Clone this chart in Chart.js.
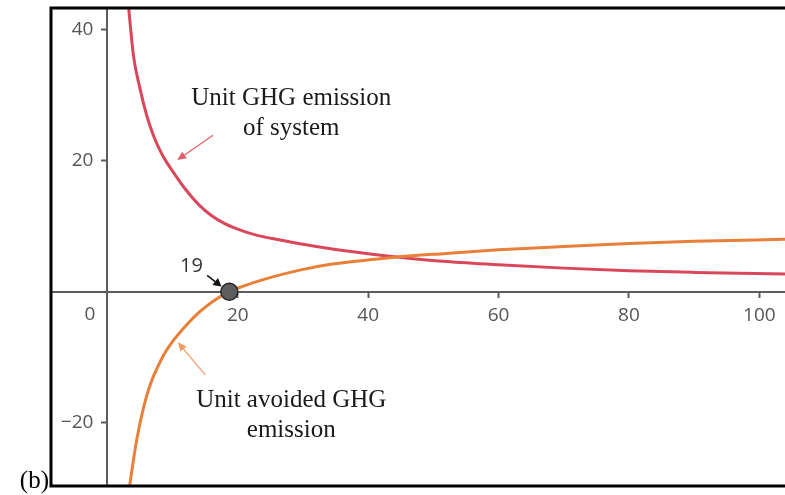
<!DOCTYPE html>
<html>
<head>
<meta charset="utf-8">
<script src="https://cdn.jsdelivr.net/npm/chart.js@4.4.1/dist/chart.umd.min.js"></script>
<style>
  html, body { margin: 0; padding: 0; background: #ffffff; }
  #wrap { width: 785px; height: 495px; position: relative; }
</style>
</head>
<body>
<div id="wrap"><canvas id="c" width="785" height="495"></canvas></div>
<script>
// ---- data ----
const systemX   = [3.1, 4, 5, 6, 7, 8, 9, 10, 12, 14, 16, 18, 20.3, 23, 26.5, 30, 34, 40, 44.4, 52, 60, 70, 80, 90, 104];
const systemY   = [45, 36, 31, 27, 24, 21.7, 19.9, 18.4, 15.6, 13.3, 11.6, 10.4, 9.45, 8.6, 7.9, 7.25, 6.6, 5.8, 5.3, 4.6, 4.1, 3.6, 3.2, 2.95, 2.7];
const avoidedX  = [3.2, 4.5, 6.2, 8.5, 10, 12.2, 14, 16, 18.7, 20.4, 24.4, 29.5, 34, 40, 44.4, 52, 60, 70, 80, 90, 104];
const avoidedY  = [-31, -22.6, -15.3, -9.9, -7.6, -5.0, -3.2, -1.6, 0, 0.7, 2.0, 3.3, 4.15, 4.85, 5.3, 5.85, 6.4, 6.9, 7.35, 7.7, 8.0];
const breakEvenX = [18.7];
const breakEvenY = [0];
const breakEvenLabel = "19";
const xTicks = [20, 40, 60, 80, 100];
const yTicks = [-20, 20, 40];
const originLabel = "0";
const systemLabel = ["Unit GHG emission", "of system"];
const avoidedLabel = ["Unit avoided GHG", "emission"];
const panelLabel = "(b)";

const toPts = (xs, ys) => xs.map((x, i) => ({ x: x, y: ys[i] }));
const fmt = v => (v < 0 ? '\u2212' + Math.abs(v) : String(v));

const RED = '#d9485a';
const ORANGE = '#e8803a';
const AXIS = '#5c5c5c';
const TICK = '#555555';
const TICK_FONT = '19px "Open Sans"';

function arrow(ctx, x1, y1, x2, y2, color, width, headLen, headW) {
  const ang = Math.atan2(y2 - y1, x2 - x1);
  const bx = x2 - headLen * Math.cos(ang);
  const by = y2 - headLen * Math.sin(ang);
  ctx.save();
  ctx.strokeStyle = color; ctx.fillStyle = color; ctx.lineWidth = width;
  ctx.beginPath(); ctx.moveTo(x1, y1); ctx.lineTo(bx, by); ctx.stroke();
  ctx.beginPath();
  ctx.moveTo(x2, y2);
  ctx.lineTo(bx + headW * Math.sin(ang), by - headW * Math.cos(ang));
  ctx.lineTo(bx - headW * Math.sin(ang), by + headW * Math.cos(ang));
  ctx.closePath(); ctx.fill();
  ctx.restore();
}

const zeroPad = s => { s.paddingTop = 0; s.paddingBottom = 0; s.paddingLeft = 0; s.paddingRight = 0; };

const decor = {
  id: 'decor',
  afterDraw(chart) {
    const { ctx, chartArea: a, scales: { x, y } } = chart;
    const X = v => x.getPixelForValue(v), Y = v => y.getPixelForValue(v);
    ctx.save();
    // frame
    ctx.strokeStyle = '#000'; ctx.lineWidth = 3;
    ctx.beginPath();
    ctx.moveTo(a.right + 5, a.top - 1); ctx.lineTo(a.left - 1, a.top - 1);
    ctx.lineTo(a.left - 1, a.bottom + 1); ctx.lineTo(a.right + 5, a.bottom + 1);
    ctx.stroke();
    // y tick labels, from the y scale's ticks
    ctx.fillStyle = TICK; ctx.font = TICK_FONT;
    ctx.textAlign = 'right'; ctx.textBaseline = 'middle';
    y.ticks.forEach(t => ctx.fillText(fmt(t.value), X(0) - 14, y.getPixelForValue(t.value)));
    // origin label
    ctx.textBaseline = 'top';
    ctx.fillText(originLabel, X(0) - 12, Y(0) + 13);
    // annotations
    ctx.fillStyle = '#1a1a1a'; ctx.font = '25px "Liberation Serif"';
    ctx.textAlign = 'center'; ctx.textBaseline = 'alphabetic';
    ctx.fillText(systemLabel[0], X(28.2), Y(28.5));
    ctx.fillText(systemLabel[1], X(28.2), Y(23.9));
    ctx.fillText(avoidedLabel[0], X(28.2), Y(-17.6));
    ctx.fillText(avoidedLabel[1], X(28.2), Y(-22.2));
    arrow(ctx, X(16.2), Y(23.9), X(10.7), Y(20.1), '#e25d6c', 1.2, 9, 4);
    arrow(ctx, X(15.0), Y(-12.7), X(10.8), Y(-7.7), '#ec9a66', 1.2, 9, 4);
    arrow(ctx, X(15.3), Y(2.5), X(17.5), Y(0.8), '#111', 1.5, 8, 4.5);
    ctx.fillStyle = '#333'; ctx.font = '20px "Open Sans"';
    ctx.textAlign = 'center'; ctx.textBaseline = 'middle';
    ctx.fillText(breakEvenLabel, X(12.9), Y(3.85));
    // panel label
    ctx.fillStyle = '#000'; ctx.font = '25px "Liberation Serif"';
    ctx.textAlign = 'right'; ctx.textBaseline = 'alphabetic';
    ctx.fillText(panelLabel, a.left - 3, a.bottom + 3);
    ctx.restore();
  }
};

new Chart(document.getElementById('c'), {
  type: 'line',
  data: {
    datasets: [
      { label: 'Unit GHG emission of system', data: toPts(systemX, systemY), borderColor: RED,
        borderWidth: 3, pointRadius: 0, cubicInterpolationMode: 'monotone', fill: false, order: 3 },
      { label: 'Unit avoided GHG emission', data: toPts(avoidedX, avoidedY), borderColor: ORANGE,
        borderWidth: 3, pointRadius: 0, cubicInterpolationMode: 'monotone', fill: false, order: 2 },
      { type: 'scatter', label: 'Break-even', data: toPts(breakEvenX, breakEvenY),
        pointRadius: 8.5, pointBackgroundColor: '#5e5e5e', pointBorderColor: '#262626',
        pointBorderWidth: 1.5, order: 1, clip: false }
    ]
  },
  options: {
    responsive: false,
    animation: false,
    devicePixelRatio: 1,
    layout: { autoPadding: false, padding: { left: 52, top: 9, right: 0, bottom: 10 } },
    plugins: { legend: { display: false }, tooltip: { enabled: false } },
    scales: {
      x: {
        type: 'linear', min: -8.5, max: 103.93,
        position: { y: 0 },
        afterBuildTicks: s => { s.ticks = xTicks.map(v => ({ value: v })); },
        afterFit: zeroPad,
        grid: { display: true, drawOnChartArea: false, drawTicks: true, tickLength: 5, tickColor: AXIS, tickWidth: 2 },
        border: { display: true, color: AXIS, width: 2 },
        ticks: { color: TICK, font: { family: 'Open Sans', size: 19 }, padding: 7, maxRotation: 0, autoSkip: false }
      },
      y: {
        type: 'linear', min: -29.51, max: 43.16,
        position: { x: 0 },
        afterBuildTicks: s => { s.ticks = yTicks.map(v => ({ value: v })); },
        afterFit: zeroPad,
        grid: { display: true, drawOnChartArea: false, drawTicks: true, tickLength: 5, tickColor: AXIS, tickWidth: 2 },
        border: { display: true, color: AXIS, width: 2 },
        ticks: { display: false, autoSkip: false }
      }
    }
  },
  plugins: [decor]
});
</script>
</body>
</html>
